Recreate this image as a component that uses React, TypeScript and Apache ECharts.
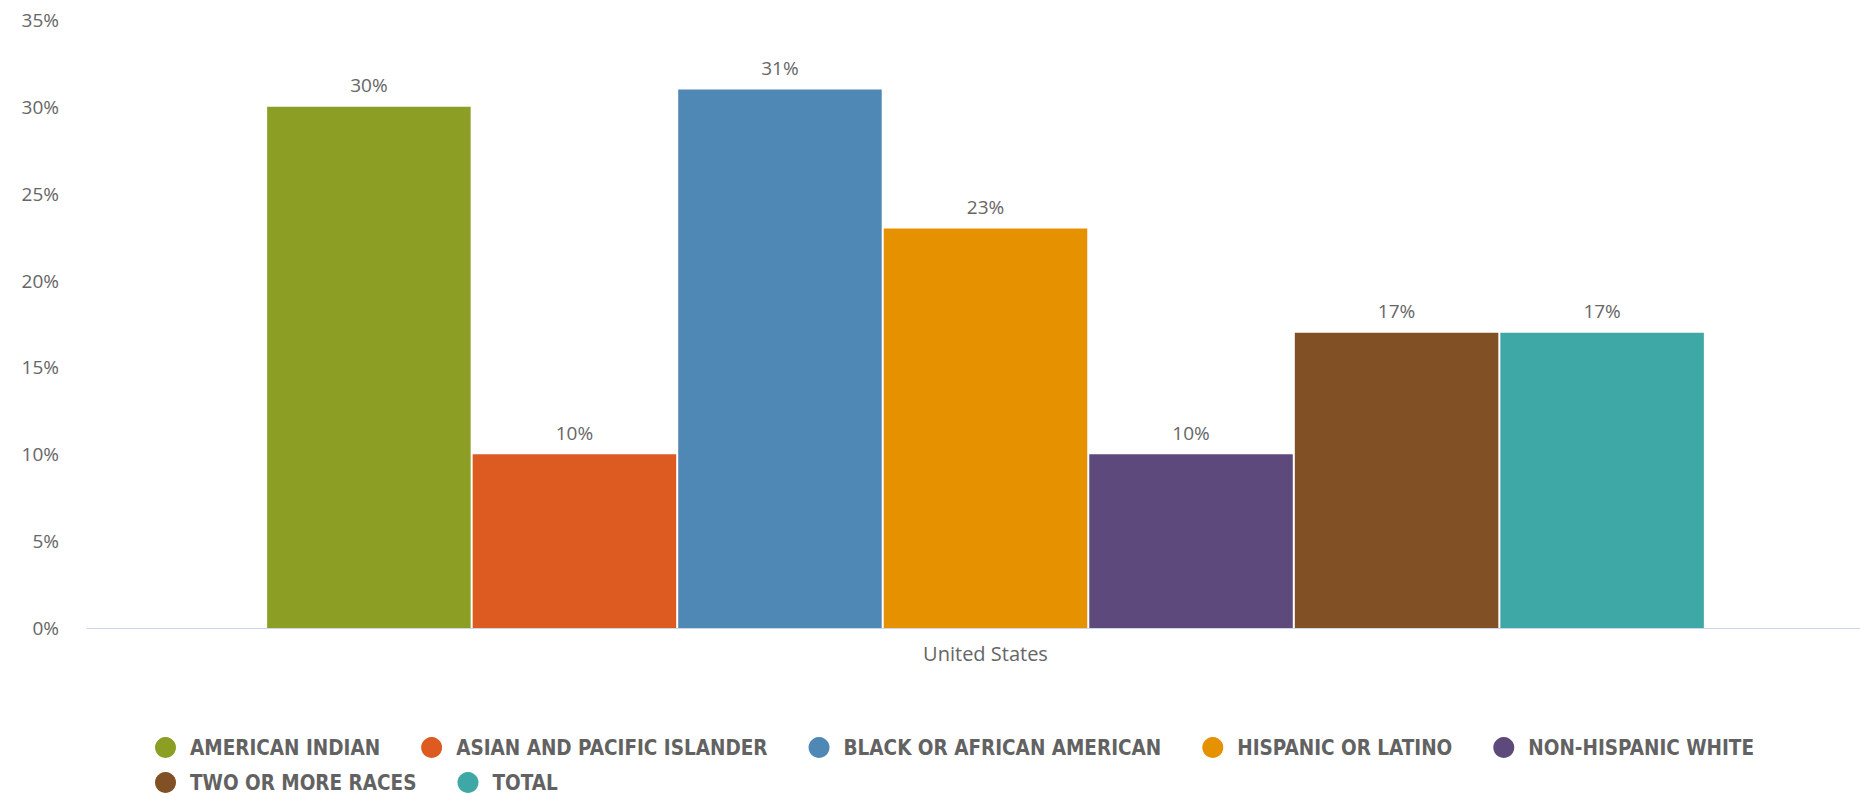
import React, { useEffect, useRef } from "react";
import * as echarts from "echarts";

const categories = ["United States"];
const seriesNames = [
  "AMERICAN INDIAN",
  "ASIAN AND PACIFIC ISLANDER",
  "BLACK OR AFRICAN AMERICAN",
  "HISPANIC OR LATINO",
  "NON-HISPANIC WHITE",
  "TWO OR MORE RACES",
  "TOTAL",
];
const seriesValues = [30, 10, 31, 23, 10, 17, 17];
const seriesColors = ["#8C9E24", "#DD5A20", "#4F88B4", "#E59100", "#5D497C", "#815024", "#3DA8A5"];
const yTicks = { min: 0, max: 35, interval: 5 };

export default function App() {
  const ref = useRef<HTMLDivElement>(null);
  useEffect(() => {
    if (!ref.current) return;
    const chart = echarts.init(ref.current, undefined, { renderer: "svg" });
    const legendText = {
      fontFamily: "'DejaVu Sans Condensed', 'DejaVu Sans', sans-serif",
      fontWeight: "bold" as const,
      fontSize: 20.5,
      color: "#626262",
      padding: [0, 0, 0, 9],
    };
    chart.setOption({
      animation: false,
      backgroundColor: "#ffffff",
      grid: { left: 87, right: 0, top: 20, bottom: 169, containLabel: false },
      legend: [
        {
          data: seriesNames.slice(0, 5),
          left: 155,
          top: 737,
          orient: "horizontal",
          icon: "circle",
          itemWidth: 21,
          itemHeight: 21,
          itemGap: 41,
          padding: 0,
          textStyle: legendText,
          selectedMode: false,
        },
        {
          data: seriesNames.slice(5),
          left: 155,
          top: 772,
          orient: "horizontal",
          icon: "circle",
          itemWidth: 21,
          itemHeight: 21,
          itemGap: 41,
          padding: 0,
          textStyle: legendText,
          selectedMode: false,
        },
      ],
      xAxis: {
        type: "category",
        data: categories,
        axisLine: { show: true, lineStyle: { color: "#ccd6eb", width: 1 } },
        axisTick: { show: false },
        axisLabel: {
          color: "#666666",
          fontFamily: "'Open Sans', sans-serif",
          fontSize: 20,
          margin: 15,
        },
        splitLine: { show: false },
      },
      yAxis: {
        type: "value",
        min: yTicks.min,
        max: yTicks.max,
        interval: yTicks.interval,
        axisLine: { show: false },
        axisTick: { show: false },
        splitLine: { show: false },
        axisLabel: {
          formatter: "{value}%",
          color: "#666666",
          fontFamily: "'Open Sans', sans-serif",
          fontSize: 19,
          margin: 28,
        },
      },
      series: seriesNames.map((name, i) => ({
        name,
        type: "bar",
        data: [seriesValues[i]],
        barWidth: 203.5,
        barGap: "1%",
        itemStyle: { color: seriesColors[i] },
        label: {
          show: true,
          position: "top",
          distance: 12,
          formatter: "{c}%",
          color: "#666666",
          fontFamily: "'Open Sans', sans-serif",
          fontSize: 19,
        },
      })),
    });
    return () => chart.dispose();
  }, []);
  return (
    <div
      style={{
        position: "absolute",
        left: 0,
        top: 0,
        width: 1860,
        height: 797,
        overflow: "hidden",
        background: "#ffffff",
      }}
    >
      <div ref={ref} style={{ width: 1884, height: 797 }} />
    </div>
  );
}
